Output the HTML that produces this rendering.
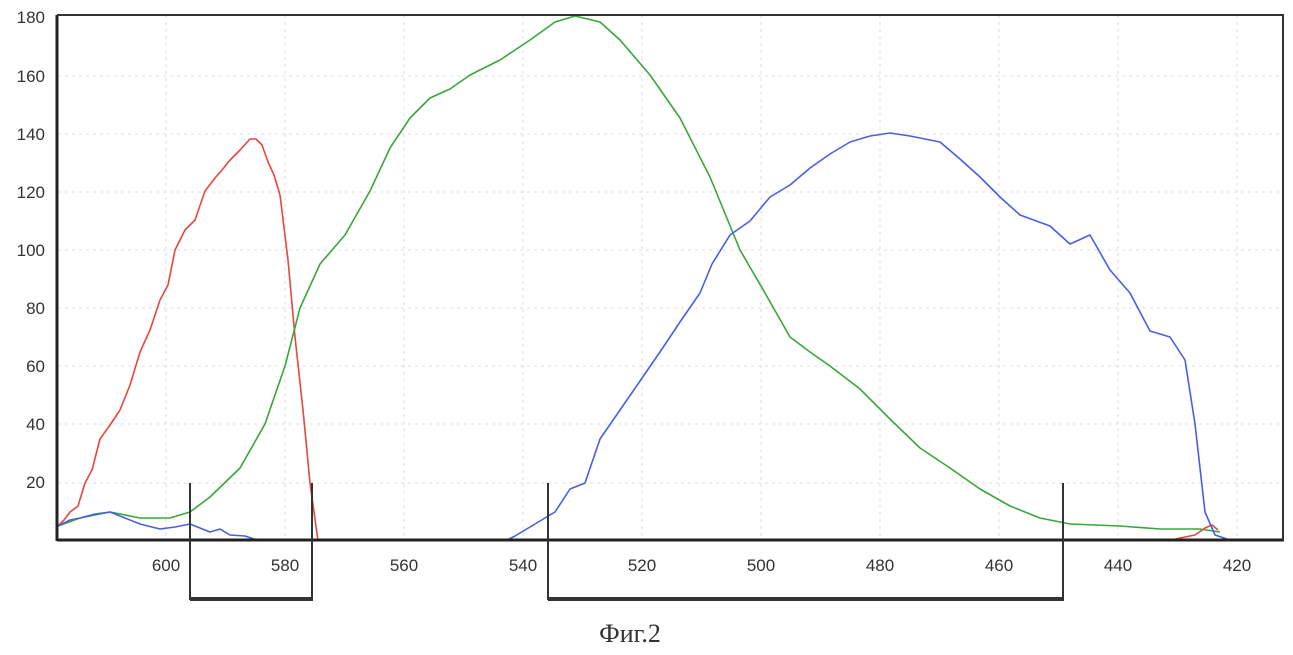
<!DOCTYPE html>
<html><head><meta charset="utf-8"><style>
body{margin:0;background:#fff;}
svg text{font-family:"Liberation Sans",sans-serif;font-size:17px;fill:#333;}
</style></head><body>
<svg width="1293" height="650" viewBox="0 0 1293 650" xmlns="http://www.w3.org/2000/svg">
<g stroke="#ddd" stroke-width="1" stroke-dasharray="3,4">
<line x1="58" y1="76" x2="1283" y2="76"/><line x1="58" y1="134" x2="1283" y2="134"/><line x1="58" y1="192" x2="1283" y2="192"/><line x1="58" y1="250" x2="1283" y2="250"/><line x1="58" y1="308" x2="1283" y2="308"/><line x1="58" y1="366" x2="1283" y2="366"/><line x1="58" y1="424" x2="1283" y2="424"/><line x1="58" y1="483" x2="1283" y2="483"/>
<line x1="166" y1="15" x2="166" y2="540"/><line x1="285" y1="15" x2="285" y2="540"/><line x1="404" y1="15" x2="404" y2="540"/><line x1="523" y1="15" x2="523" y2="540"/><line x1="642" y1="15" x2="642" y2="540"/><line x1="761" y1="15" x2="761" y2="540"/><line x1="880" y1="15" x2="880" y2="540"/><line x1="999" y1="15" x2="999" y2="540"/><line x1="1118" y1="15" x2="1118" y2="540"/><line x1="1237" y1="15" x2="1237" y2="540"/>
</g>
<g fill="none" stroke-width="1.6" stroke-linejoin="round">
<polyline stroke="#e8473c" points="58,526 64,520 70,512 78,506 85,483 92,470 100,439 110,425 120,410 130,385 140,352 150,330 160,300 168,285 175,250 185,230 195,220 205,191 215,178 222,170 230,160 240,150 250,139 256,139 262,145 268,162 274,175 280,195 288,260 295,337 303,410 310,483 318,541"/>
<polyline stroke="#e8473c" points="1168,541 1180,538 1195,535 1205,528 1212,525 1218,530"/>
<polyline stroke="#3aa63a" points="58,526 80,518 110,512 140,518 170,518 190,512 210,497 240,468 265,424 285,366 300,308 320,264 345,235 370,191 390,148 410,118 430,98 450,89 470,75 500,60 530,40 555,22 575,16 600,22 620,40 650,75 680,118 710,177 740,250 765,293 790,337 810,352 830,366 860,389 890,419 920,448 950,468 980,489 1010,506 1040,518 1070,524 1120,526 1160,529 1200,529 1220,532"/>
<polyline stroke="#4a5fe0" points="58,526 70,520 80,518 95,514 110,512 125,518 140,524 160,529 175,527 190,524 200,528 210,532 220,529 230,535 245,536 260,541"/>
<polyline stroke="#4a5fe0" points="505,541 515,536 525,530 540,521 555,512 570,489 585,483 600,439 620,410 640,381 660,352 680,322 700,293 712,264 730,235 750,221 770,197 790,185 810,168 830,154 850,142 870,136 890,133 910,136 940,142 960,159 980,177 1000,197 1020,215 1050,226 1070,244 1090,235 1110,270 1130,293 1150,331 1170,337 1185,360 1195,424 1205,512 1215,535 1230,540 1270,540"/>
</g>
<g stroke="#222" stroke-width="3" fill="none">
<line x1="57" y1="540" x2="1284" y2="540"/><line x1="57" y1="15" x2="57" y2="541"/>
</g>
<g stroke="#333" stroke-width="2" fill="none">
<line x1="57" y1="15" x2="1284" y2="15"/><line x1="1283" y1="15" x2="1283" y2="541"/>
<line x1="190" y1="483" x2="190" y2="600"/><line x1="312" y1="483" x2="312" y2="600"/>
<line x1="548" y1="483" x2="548" y2="600"/><line x1="1063" y1="483" x2="1063" y2="600"/>
</g>
<g stroke="#333" stroke-width="4"><line x1="190" y1="599" x2="313" y2="599"/><line x1="548" y1="599" x2="1064" y2="599"/></g>
<g text-anchor="end">
<text x="45" y="23">180</text><text x="45" y="82">160</text><text x="45" y="140">140</text><text x="45" y="198">120</text><text x="45" y="256">100</text><text x="45" y="314">80</text><text x="45" y="372">60</text><text x="45" y="430">40</text><text x="45" y="488">20</text>
</g>
<g text-anchor="middle">
<text x="166" y="571">600</text><text x="285" y="571">580</text><text x="404" y="571">560</text><text x="523" y="571">540</text><text x="642" y="571">520</text><text x="761" y="571">500</text><text x="880" y="571">480</text><text x="999" y="571">460</text><text x="1118" y="571">440</text><text x="1237" y="571">420</text>
</g>
<text x="630" y="642" text-anchor="middle" style="font-family:'Liberation Serif',serif;font-size:26px;fill:#333">Фиг.2</text>
</svg>
</body></html>
